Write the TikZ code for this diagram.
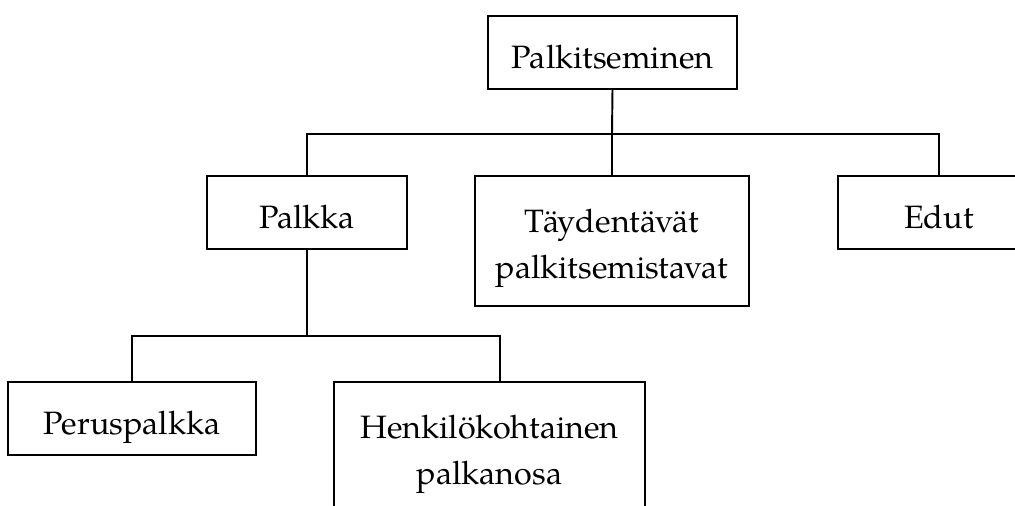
\documentclass[tikz,border=0pt]{standalone}
\usepackage{fontspec}
\setmainfont{TeX Gyre Pagella}
\usetikzlibrary{positioning}

\tikzset{
  box/.style={draw, line width=0.6pt, rectangle, align=center, inner sep=0pt,
    font=\fontsize{18.4}{26}\selectfont},
  onerow/.style={text height=0.62cm, text depth=0cm},
  tworow/.style={text height=1.48cm, text depth=0cm},
  link/.style={line width=1.1pt}
}

\begin{document}
\begin{tikzpicture}[x=0.02cm,y=-0.02cm]
  \useasboundingbox (0,0) rectangle (1015,505);
  % ylin taso
  \node[box, onerow, minimum width=249*0.02cm, minimum height=73*0.02cm] (root) at (612.5,52.5) {Palkitseminen};
  % toinen taso
  \node[box, onerow, minimum width=200*0.02cm, minimum height=73*0.02cm] (palkka) at (307,212.5) {Palkka};
  \node[box, tworow, minimum width=274*0.02cm, minimum height=130*0.02cm] (taydent) at (612,241) {Täydentävät\\palkitsemistavat};
  \node[box, onerow, minimum width=202*0.02cm, minimum height=73*0.02cm] (edut) at (939,212.5) {Edut};
  % kolmas taso
  \node[box, onerow, minimum width=248*0.02cm, minimum height=73*0.02cm] (perus) at (132,418.5) {Peruspalkka};
  \node[box, tworow, minimum width=311*0.02cm, minimum height=130*0.02cm] (henk) at (489.5,447) {Henkilökohtainen\\palkanosa};
  \coordinate (bus1) at (612,134);
  \coordinate (bus2) at (307,336);
  \coordinate (henkin) at (500,382);
  % yhteydet
  \draw[link] (root.south) -- (bus1);
  \draw[link] (palkka.north) -- (palkka.north |- bus1) -- (edut.north |- bus1) -- (edut.north);
  \draw[link] (taydent.north) -- (taydent.north |- bus1);
  \draw[link] (palkka.south) -- (bus2);
  \draw[link] (perus.north) -- (perus.north |- bus2) -- (henkin |- bus2) -- (henkin);
\end{tikzpicture}
\end{document}
